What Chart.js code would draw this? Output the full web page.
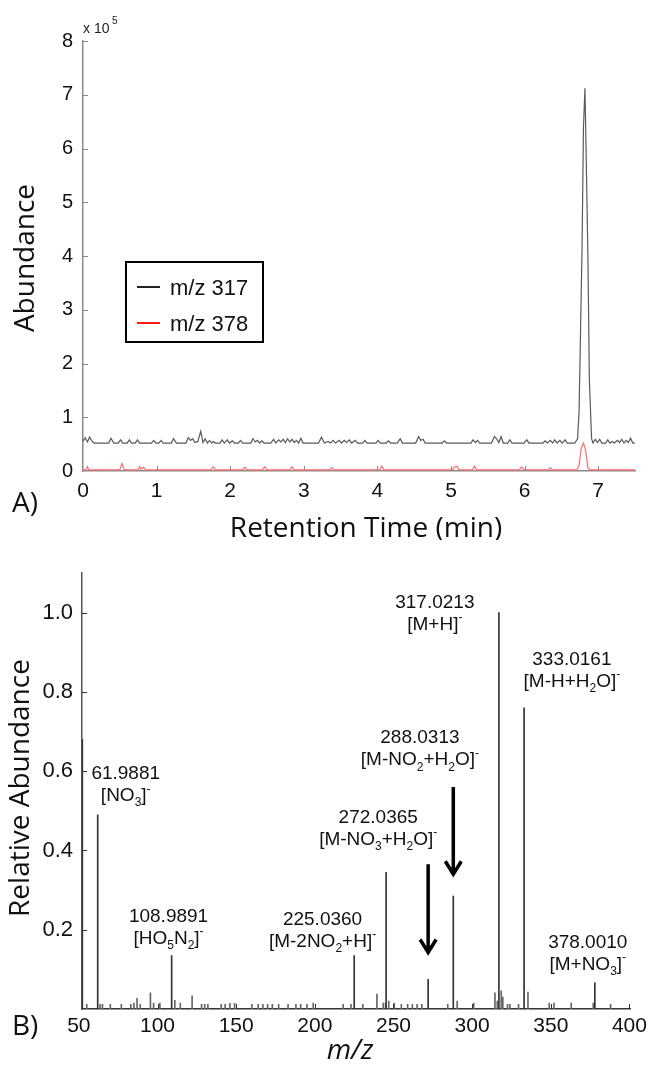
<!DOCTYPE html>
<html>
<head>
<meta charset="utf-8">
<script src="https://cdn.jsdelivr.net/npm/chart.js@4.4.1/dist/chart.umd.min.js"></script>
<style>
  html, body { margin: 0; padding: 0; background: #fff; }
  #wrap { position: relative; width: 652px; height: 1069px; }
  canvas { position: absolute; left: 0; }
  #chromChart { top: 0; }
  #specChart { top: 540px; }
</style>
</head>
<body>
<div id="wrap">
  <canvas id="chromChart" width="652" height="540"></canvas>
  <canvas id="specChart" width="652" height="529"></canvas>
</div>
<script>
// ---- A) extracted ion chromatograms (abundance in units of 10^5) ----
const rtTicks = [0, 1, 2, 3, 4, 5, 6, 7];
const abundTicks = [0, 1, 2, 3, 4, 5, 6, 7, 8];

// [retention time (min), abundance]
const trace317 = [
  [0.00,0.55],[0.03,0.62],[0.06,0.54],[0.09,0.63],[0.12,0.56],[0.15,0.52],[0.35,0.52],[0.38,0.61],
  [0.42,0.52],[0.48,0.52],[0.51,0.58],[0.54,0.52],[0.60,0.52],[0.63,0.58],[0.66,0.52],[0.71,0.52],
  [0.74,0.58],[0.77,0.52],[0.93,0.52],[0.96,0.57],[0.99,0.52],[1.03,0.52],[1.06,0.57],[1.09,0.52],
  [1.20,0.52],[1.23,0.60],[1.27,0.52],[1.40,0.52],[1.43,0.62],[1.46,0.57],[1.49,0.60],[1.52,0.53],
  [1.56,0.55],[1.60,0.74],[1.63,0.53],[1.66,0.60],[1.69,0.52],[1.72,0.57],[1.75,0.52],[1.77,0.55],
  [1.80,0.52],[1.86,0.52],[1.89,0.58],[1.92,0.52],[1.96,0.58],[1.99,0.52],[2.03,0.56],[2.06,0.52],
  [2.11,0.52],[2.14,0.57],[2.17,0.52],[2.28,0.52],[2.31,0.60],[2.34,0.54],[2.37,0.57],[2.40,0.52],
  [2.43,0.56],[2.46,0.52],[2.55,0.52],[2.59,0.59],[2.62,0.52],[2.66,0.58],[2.69,0.54],[2.72,0.59],
  [2.75,0.53],[2.78,0.60],[2.81,0.54],[2.84,0.59],[2.87,0.53],[2.90,0.57],[2.93,0.52],[2.96,0.61],
  [2.99,0.52],[3.20,0.52],[3.24,0.63],[3.28,0.52],[3.33,0.55],[3.36,0.52],[3.40,0.57],[3.43,0.52],
  [3.48,0.57],[3.51,0.52],[3.55,0.57],[3.58,0.53],[3.62,0.58],[3.65,0.52],[3.70,0.57],[3.73,0.52],
  [3.80,0.52],[3.83,0.57],[3.86,0.52],[3.98,0.52],[4.01,0.57],[4.04,0.52],[4.12,0.52],[4.15,0.56],
  [4.18,0.52],[4.27,0.52],[4.31,0.60],[4.34,0.52],[4.52,0.52],[4.56,0.64],[4.59,0.57],[4.62,0.59],
  [4.65,0.52],[4.88,0.52],[4.91,0.56],[4.94,0.52],[5.27,0.52],[5.30,0.58],[5.33,0.53],[5.36,0.57],
  [5.39,0.52],[5.55,0.52],[5.59,0.64],[5.62,0.60],[5.65,0.53],[5.68,0.64],[5.71,0.52],[5.77,0.52],
  [5.80,0.58],[5.83,0.52],[5.99,0.52],[6.03,0.58],[6.06,0.52],[6.25,0.52],[6.28,0.56],[6.31,0.52],
  [6.35,0.57],[6.38,0.52],[6.41,0.58],[6.44,0.52],[6.48,0.57],[6.51,0.52],[6.55,0.58],[6.58,0.52],
  [6.68,0.52],[6.72,0.60],[6.74,1.10],[6.76,2.60],[6.78,4.10],[6.80,6.40],[6.82,7.12],[6.84,5.60],
  [6.86,4.00],[6.88,1.70],[6.91,0.60],[6.93,0.52],[6.96,0.59],[6.99,0.53],[7.02,0.59],[7.05,0.52],
  [7.10,0.52],[7.13,0.58],[7.16,0.52],[7.19,0.55],[7.22,0.52],[7.26,0.57],[7.29,0.53],[7.32,0.59],
  [7.35,0.52],[7.38,0.57],[7.41,0.53],[7.44,0.61],[7.47,0.52],[7.50,0.52]
];

const trace378 = [
  [0.00,0.02],[0.04,0.02],[0.06,0.08],[0.08,0.02],[0.50,0.02],[0.53,0.14],[0.56,0.03],[0.60,0.02],
  [0.75,0.02],[0.77,0.08],[0.79,0.03],[0.82,0.07],[0.85,0.02],[1.74,0.02],[1.77,0.08],[1.80,0.02],
  [2.17,0.02],[2.20,0.07],[2.23,0.02],[2.44,0.02],[2.47,0.08],[2.50,0.02],[2.81,0.02],[2.84,0.08],
  [2.87,0.02],[3.35,0.02],[3.38,0.06],[3.41,0.02],[4.03,0.02],[4.06,0.09],[4.09,0.02],[5.02,0.02],
  [5.05,0.08],[5.08,0.09],[5.11,0.02],[5.29,0.02],[5.32,0.09],[5.35,0.02],[5.93,0.02],[5.96,0.08],
  [5.99,0.02],[6.32,0.02],[6.35,0.06],[6.38,0.02],[6.71,0.02],[6.74,0.10],[6.77,0.42],[6.80,0.52],
  [6.83,0.38],[6.86,0.06],[6.89,0.02],[7.50,0.02]
];

// ---- B) mass spectrum ----
const mzTicks = [50, 100, 150, 200, 250, 300, 350, 400];
const relTicks = [0.2, 0.4, 0.6, 0.8, 1.0];

const peakMz        = [52.2, 61.9881, 108.9891, 225.0360, 245.3, 272.0365, 288.0313, 317.0213, 333.0161, 378.0010];
const peakIntensity = [0.68, 0.49,    0.135,    0.135,    0.345, 0.075,    0.285,    1.00,     0.76,     0.066];

const minorMz = [
  55, 63.5, 65, 70, 77, 83, 85, 87, 89, 95.5, 97.5, 101.5, 111, 114.5, 122, 128, 130, 132,
  140.5, 143, 146, 149, 160, 164, 167, 170, 173, 177, 183, 188, 191, 195, 199, 218, 223,
  230.5, 239.5, 243.5, 245, 247, 250.5, 255, 259, 262, 265, 268, 284.5, 290.5, 301,
  314.5, 316, 318.5, 319.5, 322.5, 324, 329.5, 335.5, 349, 352, 363, 377, 388
];
const minorIntensity = [
  0.012, 0.012, 0.012, 0.012, 0.012, 0.012, 0.015, 0.027, 0.012, 0.041, 0.015, 0.015, 0.022, 0.015, 0.033, 0.012, 0.012, 0.012,
  0.012, 0.012, 0.014, 0.014, 0.012, 0.012, 0.012, 0.012, 0.012, 0.012, 0.012, 0.012, 0.012, 0.012, 0.015, 0.012, 0.012,
  0.012, 0.0375, 0.015, 0.015, 0.02, 0.015, 0.012, 0.012, 0.012, 0.012, 0.012, 0.012, 0.02, 0.015,
  0.041, 0.02, 0.046, 0.03, 0.012, 0.012, 0.012, 0.043, 0.015, 0.015, 0.015, 0.015, 0.012
];

// peak annotations: accurate mass + ion ( _x subscript, ^x superscript )
const peakLabels = [
  ['61.9881', '[NO_3]^-'],
  ['108.9891', '[HO_5N_2]^-'],
  ['225.0360', '[M-2NO_2+H]^-'],
  ['272.0365', '[M-NO_3+H_2O]^-'],
  ['288.0313', '[M-NO_2+H_2O]^-'],
  ['317.0213', '[M+H]^-'],
  ['333.0161', '[M-H+H_2O]^-'],
  ['378.0010', '[M+NO_3]^-']
];
// where each label sits (m/z, rel. abundance of first baseline)
const labelAt = [[79.8, 0.58], [107, 0.22], [204.9, 0.2125], [240.3, 0.47], [266.8, 0.67], [276.3, 1.0125], [363.4, 0.868], [373.5, 0.155]];
// arrows: m/z, from, to
const arrows = [[288.0313, 0.56, 0.335], [272.0365, 0.365, 0.1375]];

const tickFont = '"Liberation Sans", Arial, sans-serif';
const titleFont = '"Open Sans", "Noto Sans", sans-serif';

function richText(ctx, str, x, y, size, align) {
  const parts = [];
  for (let i = 0; i < str.length; i++) {
    const c = str[i];
    if ((c === '_' || c === '^') && i + 1 < str.length) {
      parts.push({ t: str[i + 1], k: c });
      i++;
    } else {
      parts.push({ t: c, k: '' });
    }
  }
  const big = size + 'px ' + tickFont;
  const small = Math.round(size * 0.65) + 'px ' + tickFont;
  let w = 0;
  parts.forEach(p => {
    ctx.font = p.k ? small : big;
    p.w = ctx.measureText(p.t).width;
    w += p.w;
  });
  let cx = align === 'left' ? x : x - w / 2;
  ctx.textAlign = 'left';
  ctx.textBaseline = 'alphabetic';
  parts.forEach(p => {
    ctx.font = p.k ? small : big;
    let dy = 0;
    if (p.k === '_') dy = size * 0.28;
    if (p.k === '^') dy = -size * 0.45;
    ctx.fillText(p.t, cx, y + dy);
    cx += p.w;
  });
}

// small inward tick marks, like the original plots
const inwardTicks = {
  id: 'inwardTicks',
  afterDraw(chart, args, opts) {
    const ctx = chart.ctx;
    const area = chart.chartArea;
    const { x, y } = chart.scales;
    ctx.save();
    ctx.strokeStyle = opts.color;
    ctx.lineWidth = 1;
    ctx.beginPath();
    x.ticks.forEach(t => {
      const px = Math.round(x.getPixelForValue(t.value)) + 0.5;
      if (px < area.left + 1 || px > area.right + 1) return;
      ctx.moveTo(px, area.bottom);
      ctx.lineTo(px, area.bottom - 5);
    });
    y.ticks.forEach(t => {
      const py = Math.round(y.getPixelForValue(t.value)) + 0.5;
      if (py > area.bottom - 1) return;
      ctx.moveTo(area.left, py);
      ctx.lineTo(area.left + 5, py);
    });
    ctx.stroke();
    ctx.restore();
  }
};

// titles, legend and labels for panel A
const chromText = {
  id: 'chromText',
  afterDraw(chart) {
    const ctx = chart.ctx;
    ctx.save();
    ctx.fillStyle = '#222';
    richText(ctx, 'x 10', 83, 33, 14, 'left');
    ctx.font = '10px ' + tickFont;
    ctx.fillText('5', 112, 24);

    ctx.fillStyle = '#111';
    ctx.font = '28px ' + titleFont;
    ctx.textAlign = 'center';
    ctx.textBaseline = 'alphabetic';
    ctx.fillText('Retention Time (min)', 366, 537);
    ctx.textAlign = 'left';
    ctx.fillText('A)', 12, 512);

    ctx.translate(26, 258);
    ctx.rotate(-Math.PI / 2);
    ctx.textAlign = 'center';
    ctx.textBaseline = 'middle';
    ctx.fillText('Abundance', 0, 0);
    ctx.restore();

    // legend box
    ctx.save();
    ctx.strokeStyle = '#000';
    ctx.lineWidth = 2;
    ctx.strokeRect(126, 262, 137, 80);
    chart.data.datasets.forEach((ds, i) => {
      const ly = 287 + i * 36;
      ctx.strokeStyle = ds.legendColor;
      ctx.beginPath();
      ctx.moveTo(137, ly);
      ctx.lineTo(160, ly);
      ctx.stroke();
      ctx.fillStyle = '#111';
      ctx.font = '22px ' + tickFont;
      ctx.textAlign = 'left';
      ctx.textBaseline = 'alphabetic';
      ctx.fillText(ds.label, 170, ly + 8);
    });
    ctx.restore();
  }
};

// titles, peak labels and arrows for panel B
const specText = {
  id: 'specText',
  afterDraw(chart) {
    const ctx = chart.ctx;
    const { x, y } = chart.scales;
    ctx.save();
    ctx.fillStyle = '#111';
    peakLabels.forEach((lab, i) => {
      const px = x.getPixelForValue(labelAt[i][0]);
      const py = y.getPixelForValue(labelAt[i][1]);
      richText(ctx, lab[0], px, py, 19);
      richText(ctx, lab[1], px, py + 22, 19);
    });

    ctx.strokeStyle = '#000';
    ctx.lineWidth = 3.5;
    ctx.lineJoin = 'miter';
    arrows.forEach(a => {
      const px = x.getPixelForValue(a[0]);
      const y0 = y.getPixelForValue(a[1]);
      const y1 = y.getPixelForValue(a[2]);
      ctx.beginPath();
      ctx.moveTo(px, y0);
      ctx.lineTo(px, y1 - 2);
      ctx.moveTo(px - 8, y1 - 15);
      ctx.lineTo(px, y1 - 2);
      ctx.lineTo(px + 8, y1 - 15);
      ctx.stroke();
    });

    ctx.fillStyle = '#111';
    ctx.font = 'italic 28px ' + titleFont;
    ctx.textAlign = 'center';
    ctx.textBaseline = 'alphabetic';
    ctx.fillText('m/z', 350, 519);
    ctx.font = '28px ' + titleFont;
    ctx.textAlign = 'left';
    ctx.fillText('B)', 12, 495);

    ctx.translate(21, 248);
    ctx.rotate(-Math.PI / 2);
    ctx.textAlign = 'center';
    ctx.textBaseline = 'middle';
    ctx.fillText('Relative Abundance', 0, 0);
    ctx.restore();
  }
};

new Chart(document.getElementById('chromChart'), {
  type: 'line',
  data: {
    datasets: [
      {
        label: 'm/z 317',
        data: trace317.map(p => ({ x: p[0], y: p[1] })),
        borderColor: '#5a5a5a',
        legendColor: '#222',
        borderWidth: 1.2,
        pointRadius: 0,
        tension: 0
      },
      {
        label: 'm/z 378',
        data: trace378.map(p => ({ x: p[0], y: p[1] })),
        borderColor: '#ff6b6b',
        legendColor: '#ff1a1a',
        borderWidth: 1.2,
        pointRadius: 0,
        tension: 0
      }
    ]
  },
  options: {
    responsive: false,
    animation: false,
    layout: { padding: { left: 0, top: 41, right: 17, bottom: 0 } },
    plugins: {
      legend: { display: false },
      tooltip: { enabled: false },
      inwardTicks: { color: '#888' }
    },
    scales: {
      x: {
        type: 'linear',
        min: 0,
        max: 7.5,
        afterBuildTicks: s => { s.ticks = rtTicks.map(v => ({ value: v })); },
        afterFit: s => { s.height = 69; },
        grid: { display: false, drawTicks: false },
        border: { display: true, color: '#8a8a8a', width: 1.5 },
        ticks: { color: '#111', font: { family: tickFont, size: 21 }, padding: 8, maxRotation: 0 }
      },
      y: {
        min: 0,
        max: 8,
        afterBuildTicks: s => { s.ticks = abundTicks.map(v => ({ value: v })); },
        afterFit: s => { s.width = 83; },
        grid: { display: false, drawTicks: false },
        border: { display: true, color: '#8a8a8a', width: 1.5 },
        ticks: { color: '#111', font: { family: tickFont, size: 20 }, padding: 10 }
      }
    }
  },
  plugins: [inwardTicks, chromText]
});

new Chart(document.getElementById('specChart'), {
  type: 'bar',
  data: {
    datasets: [
      {
        label: 'peaks',
        data: peakMz.map((m, i) => ({ x: m, y: peakIntensity[i] })),
        backgroundColor: '#333',
        barThickness: 1,
        grouped: false
      },
      {
        label: 'minor',
        data: minorMz.map((m, i) => ({ x: m, y: minorIntensity[i] })),
        backgroundColor: '#666',
        barThickness: 1,
        grouped: false
      }
    ]
  },
  options: {
    responsive: false,
    animation: false,
    layout: { padding: { left: 0, top: 33, right: 18, bottom: 0 } },
    plugins: {
      legend: { display: false },
      tooltip: { enabled: false },
      inwardTicks: { color: '#333' }
    },
    scales: {
      x: {
        type: 'linear',
        min: 52,
        max: 400.7,
        offset: false,
        afterBuildTicks: s => { s.ticks = mzTicks.map(v => ({ value: v })); },
        afterFit: s => { s.height = 60; },
        grid: { display: false, drawTicks: false },
        border: { display: true, color: '#333', width: 1.5 },
        ticks: { color: '#111', font: { family: tickFont, size: 21 }, padding: 5, maxRotation: 0 }
      },
      y: {
        min: 0,
        max: 1.1,
        afterBuildTicks: s => { s.ticks = relTicks.map(v => ({ value: v })); },
        afterFit: s => { s.width = 82; },
        grid: { display: false, drawTicks: false },
        border: { display: true, color: '#555', width: 1.5 },
        ticks: {
          color: '#111',
          font: { family: tickFont, size: 22 },
          padding: 9,
          callback: v => v.toFixed(1)
        }
      }
    }
  },
  plugins: [inwardTicks, specText]
});
</script>
</body>
</html>
